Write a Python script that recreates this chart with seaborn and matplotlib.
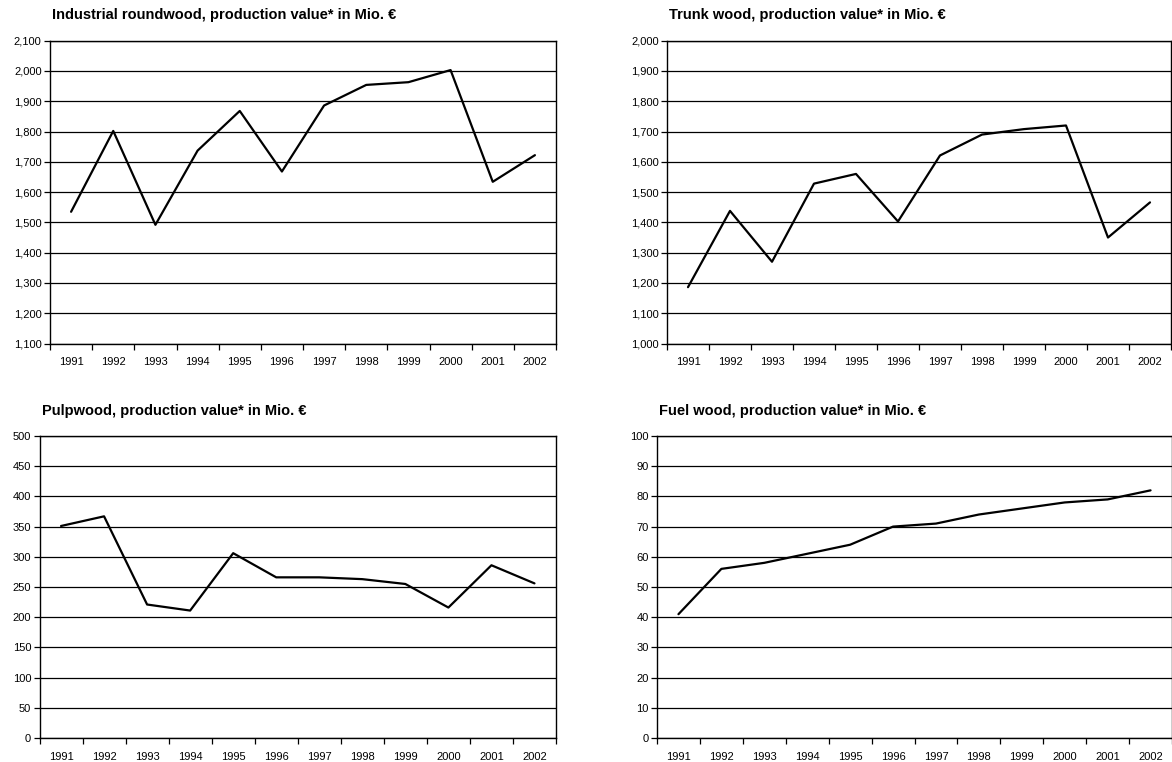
import numpy as np
import pandas as pd
import matplotlib
matplotlib.use("Agg")
import matplotlib.pyplot as plt
from matplotlib.ticker import FuncFormatter
import seaborn as sns

years = [str(y) for y in range(1991, 2003)]

industrial = [1535, 1802, 1492, 1737, 1868, 1668, 1886, 1954, 1963, 2003, 1634, 1722]
trunk = [1186, 1438, 1270, 1528, 1560, 1403, 1621, 1690, 1708, 1720, 1350, 1466]
pulp = [351, 367, 221, 211, 306, 266, 266, 263, 255, 216, 286, 256]
fuel = [41, 56, 58, 61, 64, 70, 71, 74, 76, 78, 79, 82]

titles = [
    "Industrial roundwood, production value* in Mio. €",
    "Trunk wood, production value* in Mio. €",
    "Pulpwood, production value* in Mio. €",
    "Fuel wood, production value* in Mio. €",
]
series = [industrial, trunk, pulp, fuel]
ylims = [(1100, 2100, 100), (1000, 2000, 100), (0, 500, 50), (0, 100, 10)]

sns.set_style("white")
plt.rcParams['font.family'] = ['Liberation Sans', 'DejaVu Sans']
plt.rcParams['text.color'] = 'black'

W, H = 1172, 762
fig = plt.figure(figsize=(W / 100, H / 100), dpi=100)

# axes boxes in pixels: left, right, top, bottom
boxes = [
    (50, 556, 40.7, 343.5),
    (667, 1171, 40.7, 343.5),
    (39.5, 556, 436, 738),
    (657, 1172, 436, 738),
]

comma = FuncFormatter(lambda v, p: f"{int(round(v)):,}")

for box, vals, title, (lo, hi, step) in zip(boxes, series, titles, ylims):
    l, r, t, b = box
    ax = fig.add_axes([l / W, 1 - b / H, (r - l) / W, (b - t) / H])
    df = pd.DataFrame({"pos": np.arange(len(years)), "value": vals})
    sns.lineplot(data=df, x="pos", y="value", ax=ax, color="black", lw=1.6)
    ax.set_xlim(-0.5, len(years) - 0.5)
    ax.set_ylim(lo, hi)
    ax.set_yticks(np.arange(lo, hi + step / 2, step))
    ax.yaxis.set_major_formatter(comma)
    ax.grid(axis="y", color="black", lw=0.9)
    ax.set_axisbelow(True)
    # category labels centred, tick marks between categories
    ax.set_xticks(np.arange(len(years)))
    ax.set_xticklabels(years)
    ax.set_xticks(np.arange(-0.5, len(years)), minor=True)
    ax.tick_params(axis="x", which="major", length=0, pad=10, labelsize=8, colors="black")
    ax.tick_params(axis="x", which="minor", length=4, width=0.9, direction="out", bottom=True, color="black")
    ax.tick_params(axis="y", length=4, width=0.9, direction="out", left=True, pad=2, labelsize=8, colors="black")
    for s in ax.spines.values():
        s.set_color("black")
        s.set_linewidth(1.0)
    ax.set_xlabel("")
    ax.set_ylabel("")
    fig.text((l + 2) / W, 1 - (t - 25.5) / H, title, fontsize=10.5, fontweight="bold",
             color="black", ha="left", va="center")

fig.savefig("out.png", dpi=100)
